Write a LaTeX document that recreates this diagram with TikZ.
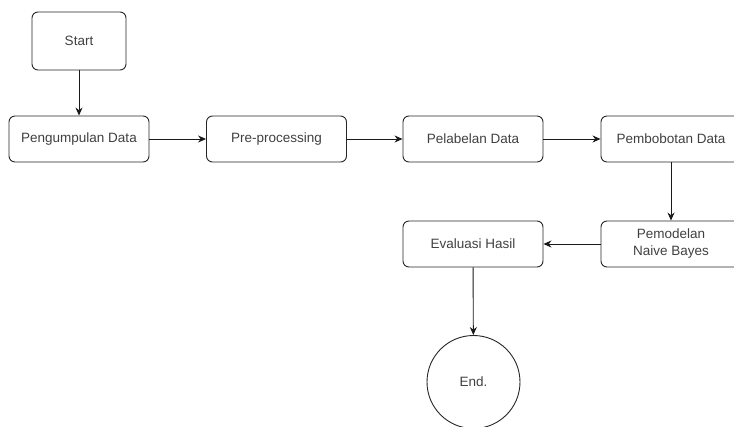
\documentclass[tikz,border=0pt]{standalone}
\usepackage{fontspec}
\setmainfont{Liberation Sans}
\usetikzlibrary{arrows.meta}

\tikzstyle{process}=[draw=black!85,line width=0.9pt,rounded corners=6pt,minimum width=140pt,minimum height=46pt,font=\fontsize{13.5}{17}\selectfont,text=black!75,align=center]
\tikzstyle{terminal}=[process,minimum width=94pt,minimum height=58pt]
\tikzstyle{stopcircle}=[circle,draw=black!85,line width=0.9pt,minimum size=93pt,font=\fontsize{13.5}{17}\selectfont,text=black!75]
\tikzstyle{flow}=[-{Stealth[length=8pt,width=7pt]},line width=0.9pt,black!90]

\begin{document}
\begin{tikzpicture}[x=1pt,y=-1pt]
   \useasboundingbox (0,0) rectangle (734,426);

   \node[terminal] (start) at (79,41) {Start};
   \node[process] (kumpul) at (79,139) {Pengumpulan Data};
   \node[process] (prepro) at (276.5,139) {Pre-processing};
   \node[process] (label) at (473,139) {Pelabelan Data};
   \node[process] (bobot) at (671,139) {Pembobotan Data};
   \node[process] (model) at (671,244) {Pemodelan\\Naive Bayes};
   \node[process] (eval) at (473,244) {Evaluasi Hasil};
   \node[stopcircle] (end) at (473.5,382) {End.};

   \draw[flow] (start) -- (kumpul);
   \draw[flow] (kumpul) -- (prepro);
   \draw[flow] (prepro) -- (label);
   \draw[flow] (label) -- (bobot);
   \draw[flow] (bobot) -- (model);
   \draw[flow] (model) -- (eval);
   \draw[flow] (eval) -- (end);
\end{tikzpicture}
\end{document}
